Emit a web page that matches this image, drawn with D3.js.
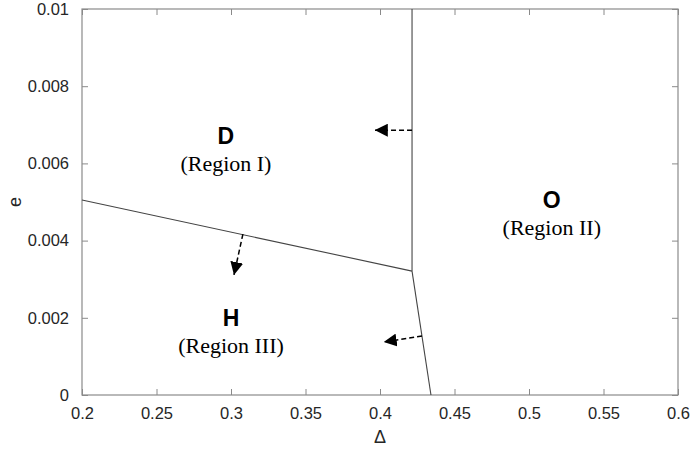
<!DOCTYPE html>
<html>
<head>
<meta charset="utf-8">
<script src="https://cdn.jsdelivr.net/npm/d3@7"></script>
<style>
  body { margin: 0; background: #fff; }
  svg { display: block; }
</style>
</head>
<body>
<div id="chart"></div>
<script>
// axis ticks
var xTicks = [0.2, 0.25, 0.3, 0.35, 0.4, 0.45, 0.5, 0.55, 0.6];
var yTicks = [0, 0.002, 0.004, 0.006, 0.008, 0.01];

// region boundaries [delta, e]
var boundaryTop = [[0.4215, 0.01], [0.4215, 0.00321]];
var boundaryLeft = [[0.2, 0.00505], [0.4215, 0.00321]];
var boundaryBottom = [[0.4215, 0.00321], [0.4342, 0]];

// dashed arrows [start, end]
var arrows = [
  [[0.4215, 0.00686], [0.3965, 0.00686]],
  [[0.308, 0.00417], [0.302, 0.00311]],
  [[0.4282, 0.00153], [0.4025, 0.00137]]
];

// region labels
var regionNames = ["D", "O", "H"];
var regionSub = ["(Region I)", "(Region II)", "(Region III)"];
var regionPos = [[0.2966, 0.0065], [0.5153, 0.00485], [0.3, 0.0018]];

var W = 693, H = 452;
var margin = {top: 9, right: 15, bottom: 57, left: 82};

var svg = d3.select("#chart").append("svg")
  .attr("width", W)
  .attr("height", H);

var x = d3.scaleLinear().domain([0.2, 0.6]).range([margin.left, W - margin.right]);
var y = d3.scaleLinear().domain([0, 0.01]).range([H - margin.bottom, margin.top]);

var axisColor = "#8a8a8a";
var tickLen = 6;

// box
svg.append("rect")
  .attr("x", x(0.2)).attr("y", y(0.01))
  .attr("width", x(0.6) - x(0.2))
  .attr("height", y(0) - y(0.01))
  .attr("fill", "none")
  .attr("stroke", axisColor)
  .attr("stroke-width", 1.2);

// axes with inward ticks
var fmt = function (d) { return d3.format("")(+d.toFixed(4)); };
svg.append("g")
  .attr("transform", "translate(0," + y(0) + ")")
  .call(d3.axisBottom(x).tickValues(xTicks).tickSizeInner(-tickLen).tickSizeOuter(0).tickPadding(12).tickFormat(fmt));
svg.append("g")
  .attr("transform", "translate(" + x(0.2) + ",0)")
  .call(d3.axisLeft(y).tickValues(yTicks).tickSizeInner(-tickLen).tickSizeOuter(0).tickPadding(13).tickFormat(fmt));
// mirrored ticks
svg.append("g")
  .attr("transform", "translate(0," + y(0.01) + ")")
  .call(d3.axisTop(x).tickValues(xTicks).tickSizeInner(-tickLen).tickSizeOuter(0).tickFormat(""));
svg.append("g")
  .attr("transform", "translate(" + x(0.6) + ",0)")
  .call(d3.axisRight(y).tickValues(yTicks).tickSizeInner(-tickLen).tickSizeOuter(0).tickFormat(""));

svg.selectAll(".domain").remove();
svg.selectAll(".tick line").attr("stroke", axisColor);
svg.selectAll(".tick text")
  .attr("fill", "#262626")
  .style("font-family", "Liberation Sans, Arial, sans-serif")
  .style("font-size", "16.5px");

// axis labels
svg.append("text")
  .attr("x", x(0.4))
  .attr("y", 443)
  .attr("text-anchor", "middle")
  .attr("fill", "#262626")
  .style("font-family", "Liberation Sans, Arial, sans-serif")
  .style("font-size", "18px")
  .text("Δ");
svg.append("text")
  .attr("transform", "translate(21," + y(0.005) + ")rotate(-90)")
  .attr("text-anchor", "middle")
  .attr("fill", "#262626")
  .style("font-family", "Liberation Sans, Arial, sans-serif")
  .style("font-size", "18px")
  .text("e");

// boundaries
var line = d3.line().x(function (d) { return x(d[0]); }).y(function (d) { return y(d[1]); });
[boundaryTop, boundaryLeft, boundaryBottom].forEach(function (b) {
  svg.append("path")
    .attr("d", line(b))
    .attr("fill", "none")
    .attr("stroke", "#444")
    .attr("stroke-width", 1.1);
});

// arrows
svg.append("defs").append("marker")
  .attr("id", "head")
  .attr("viewBox", "0 0 10 10")
  .attr("refX", 10).attr("refY", 5)
  .attr("markerWidth", 13).attr("markerHeight", 13)
  .attr("markerUnits", "userSpaceOnUse")
  .attr("orient", "auto")
  .append("path")
  .attr("d", "M0,0L10,5L0,10Z")
  .attr("fill", "#000");

arrows.forEach(function (a) {
  svg.append("path")
    .attr("d", line(a))
    .attr("fill", "none")
    .attr("stroke", "#000")
    .attr("stroke-width", 1.5)
    .attr("stroke-dasharray", "5,3")
    .attr("marker-end", "url(#head)");
});

// region labels
regionNames.forEach(function (n, i) {
  var px = x(regionPos[i][0]), py = y(regionPos[i][1]);
  svg.append("text")
    .attr("x", px).attr("y", py)
    .attr("text-anchor", "middle")
    .style("font-family", "Liberation Sans, Arial, sans-serif")
    .style("font-weight", "bold")
    .style("font-size", "23px")
    .text(n);
  svg.append("text")
    .attr("x", px).attr("y", py + 27)
    .attr("text-anchor", "middle")
    .style("font-family", "Liberation Serif, Times New Roman, serif")
    .style("font-size", "22px")
    .text(regionSub[i]);
});
</script>
</body>
</html>
